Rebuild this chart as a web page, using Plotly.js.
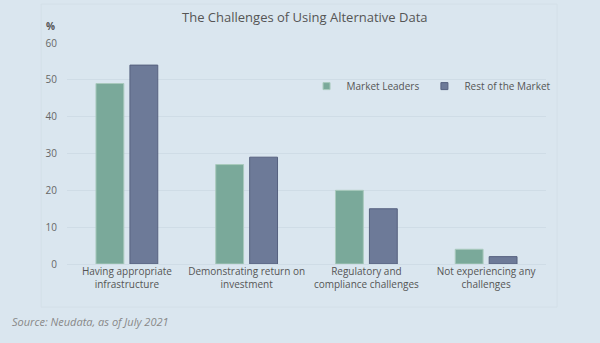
<!DOCTYPE html>
<html><head><meta charset="utf-8">
<script src="https://cdn.plot.ly/plotly-3.0.1.min.js"></script>
<style>html,body{margin:0;padding:0;background:#dae6ef;}#chart{width:600px;height:343px;}</style>
</head><body><div id="chart"></div>
<script>
const categories = ["Having appropriate<br>infrastructure", "Demonstrating return on<br>investment", "Regulatory and<br>compliance challenges", "Not experiencing any<br>challenges"];
const seriesNames = ["Market Leaders", "Rest of the Market"];
const marketLeaders = [49, 27, 20, 4];
const restOfMarket = [54, 29, 15, 2];
const yTicks = [0, 10, 20, 30, 40, 50, 60];

const font = "Open Sans, sans-serif";
const colors = ["#7aa99a", "#6d7a98"];
const data = [
  {type: "bar", name: seriesNames[0], x: categories, y: marketLeaders, showlegend: false, legendgroup: "a",
   marker: {color: colors[0], line: {color: "#a9cabd", width: 1}}},
  {type: "bar", name: seriesNames[1], x: categories, y: restOfMarket, showlegend: false, legendgroup: "b",
   marker: {color: colors[1], line: {color: "#56617f", width: 1}}},
  {type: "scatter", mode: "markers", name: seriesNames[0], x: [null], y: [null], legendgroup: "a",
   marker: {symbol: "square", size: 7, color: colors[0], line: {color: "#a9cabd", width: 1}}},
  {type: "scatter", mode: "markers", name: seriesNames[1], x: [null], y: [null], legendgroup: "b",
   marker: {symbol: "square", size: 7, color: colors[1], line: {color: "#56617f", width: 1}}}
];
const layout = {
  width: 600, height: 343,
  paper_bgcolor: "#dae6ef", plot_bgcolor: "#dae6ef",
  margin: {l: 67, r: 54, t: 43, b: 79},
  font: {family: font, color: "#555", size: 10},
  title: {text: "The Challenges of Using Alternative Data", x: 0.508, xanchor: "center", y: 0.95, yanchor: "middle",
          font: {family: font, size: 13, color: "#555"}},
  barmode: "group", bargap: 0.433, bargroupgap: 0.18,
  showlegend: true,
  legend: {orientation: "h", x: 0.76, xanchor: "center", y: 0.805, yanchor: "middle",
           font: {family: font, size: 10, color: "#555"}, bgcolor: "rgba(0,0,0,0)",
           itemwidth: 30, traceorder: "normal"},
  xaxis: {showgrid: false, showline: false, ticks: "", tickfont: {family: font, size: 10, color: "#555"}},
  yaxis: {range: [0, 60], tickvals: yTicks, showgrid: true, gridcolor: "#cfdce6", gridwidth: 1,
          zeroline: true, zerolinecolor: "#cfdce6", zerolinewidth: 1,
          showline: false, ticks: "", ticklabelstandoff: 9,
          tickfont: {family: font, size: 10, color: "#666"}},
  shapes: [
    {type: "rect", xref: "paper", yref: "paper", x0: -0.054, x1: 1.023, y0: -0.195, y1: 1.176,
     line: {color: "#d3dfe8", width: 1}, fillcolor: "rgba(0,0,0,0)", layer: "below"}
  ],
  annotations: [
    {text: "<b>%</b>", xref: "paper", yref: "paper", x: -0.035, y: 1.077, xanchor: "center", yanchor: "middle",
     showarrow: false, font: {family: font, size: 10, color: "#555"}},
    {text: "<i>Source: Neudata, as of July 2021</i>", xref: "paper", yref: "paper", x: -0.12, y: -0.26,
     xanchor: "left", yanchor: "middle", showarrow: false, font: {family: font, size: 11, color: "#888"}}
  ]
};
Plotly.newPlot("chart", data, layout, {displayModeBar: false, staticPlot: true});
</script></body></html>
